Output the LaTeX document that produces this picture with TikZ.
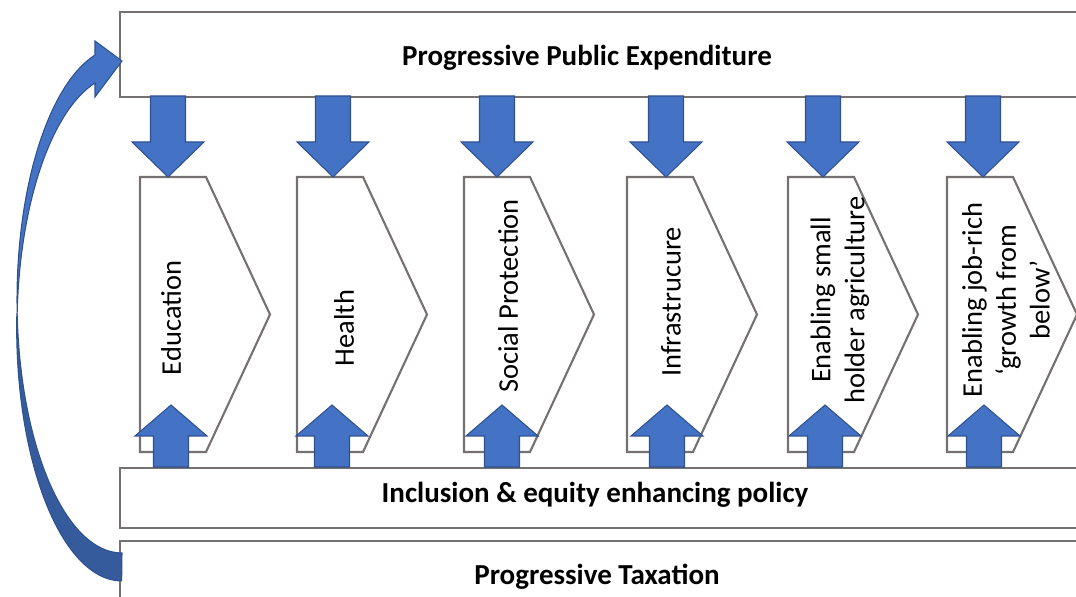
\documentclass[tikz,border=0pt]{standalone}
\usepackage{fontspec}
\setmainfont{Carlito}
\usetikzlibrary{calc}

\definecolor{arrowblue}{HTML}{4472C4}
\definecolor{arrowedge}{HTML}{2F528F}
\definecolor{arrowdark}{HTML}{365B9D}
\definecolor{boxgray}{HTML}{767171}

\begin{document}
\begin{tikzpicture}[x=0.02cm, y=0.02cm,
    every node/.style={inner sep=0pt},
    bigbox/.style={draw=boxgray, line width=1.4pt},
    chevron/.style={draw=boxgray, line width=1.2pt, fill=white},
    blockarrow/.style={fill=arrowblue, draw=arrowedge, line width=0.6pt},
    boxlabel/.style={anchor=base, font=\bfseries\fontsize{16.5}{20}\selectfont},
    sidelabel/.style={rotate=90, align=center, font=\fontsize{16.2}{19.3}\selectfont}]

        \useasboundingbox (0,0) rectangle (1076,597);
        \clip (0,0) rectangle (1076,597);

        % the three horizontal bands
        \node[bigbox, anchor=north west, minimum width=20cm, minimum height=1.7cm] (pubexp) at (119,586) {};
        \node[bigbox, anchor=north west, minimum width=20cm, minimum height=1.2cm] (inclusion) at (119,130) {};
        \node[bigbox, anchor=north west, minimum width=20cm, minimum height=1.6cm] (taxation) at (119,57) {};

        \node[boxlabel] (pubexptext) at (587,531) {Progressive Public Expenditure};
        \node[boxlabel] (inclusiontext) at (595,94) {Inclusion \& equity enhancing policy};
        \node[boxlabel] (taxationtext) at (597,12) {Progressive Taxation};

        % policy areas
        \foreach \xl in {140,297,464,627,788,947}
            \draw[chevron] (\xl,420) -- ++(66,0) -- ++(64,-137.5) -- ++(-64,-137.5) -- ++(-66,0) -- cycle;

        \node[sidelabel] (edu) at (171,279) {Education};
        \node[sidelabel] (health) at (344,269) {Health};
        \node[sidelabel] (social) at (508,301) {Social Protection};
        \node[sidelabel] (infra) at (671,295) {Infrastrucure};
        \node[sidelabel] (agri) at (840,297) {Enabling small\\holder agriculture};
        \node[sidelabel] (jobs) at (1006,297) {Enabling job-rich\\‘growth from\\below’};

        % spending flows down, policy pushes up
        \foreach \xc in {168,333,497,666,823,983}
            \draw[blockarrow] (\xc-17.5,501) -- (\xc-17.5,455) -- (\xc-36,455) -- (\xc,420) -- (\xc+36,455) -- (\xc+17.5,455) -- (\xc+17.5,501) -- cycle;
        \foreach \xc in {171,332,502,667,825,984}
            \draw[blockarrow] (\xc-17.5,130) -- (\xc-17.5,161) -- (\xc-36,161) -- (\xc,192) -- (\xc+36,161) -- (\xc+17.5,161) -- (\xc+17.5,130) -- cycle;

        % taxation feeds expenditure
        \draw[fill=arrowdark, draw=arrowedge, line width=0.6pt] (16.84,283.25)
            arc[start angle=176.83, end angle=270, x radius=2.1cm, y radius=5.065cm] -- (122,44)
            arc[start angle=270, end angle=183.17, x radius=2.1cm, y radius=5.065cm] -- cycle;
        \draw[blockarrow] (95,542)
            arc[start angle=104.9, end angle=183.17, x radius=2.1cm, y radius=5.065cm]
            arc[start angle=176.83, end angle=104.9, x radius=2.1cm, y radius=5.065cm]
            -- (95,500) -- (122,536) -- (95,556) -- cycle;
    \end{tikzpicture}
\end{document}
